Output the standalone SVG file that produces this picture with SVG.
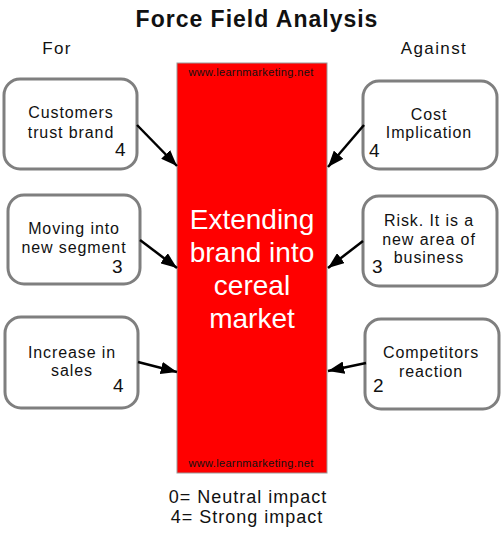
<svg xmlns="http://www.w3.org/2000/svg" width="502" height="535" viewBox="0 0 502 535">
<defs>
<marker id="ah" viewBox="0 0 13 10" refX="13" refY="5" markerWidth="6.5" markerHeight="5" orient="auto" markerUnits="strokeWidth">
<path d="M0,0 L13,5 L0,10 z" fill="#000"/>
</marker>
<style>
text{font-family:"Liberation Sans",Arial,sans-serif;fill:#111}
.box{fill:#fff;stroke:#7f7f7f;stroke-width:3}
.lbl{font-size:16px;letter-spacing:0.9px;text-anchor:middle}
.num{font-size:19px}
.arr{stroke:#000;stroke-width:2.5;fill:none;marker-end:url(#ah)}
.wm{font-size:11px;letter-spacing:0.35px;text-anchor:middle}
.ctr{font-size:28px;fill:#fff;text-anchor:middle}
.hd{font-size:17px;letter-spacing:1.4px;text-anchor:middle}
.leg{font-size:18px;letter-spacing:1px;text-anchor:middle}
</style>
</defs>
<rect width="502" height="535" fill="#fff"/>
<text x="257" y="27" font-size="23" font-weight="bold" letter-spacing="1" text-anchor="middle">Force Field Analysis</text>
<text class="hd" x="57" y="54">For</text>
<text class="hd" x="434" y="54">Against</text>

<g id="center">
<rect x="177" y="63" width="150" height="410" fill="#ff0000" stroke="#999" stroke-width="1"/>
<text class="wm" x="251" y="76">www.learnmarketing.net</text>
<text class="wm" x="251" y="467">www.learnmarketing.net</text>
<text class="ctr" x="252" y="229">Extending</text>
<text class="ctr" x="252" y="262">brand into</text>
<text class="ctr" x="252" y="295">cereal</text>
<text class="ctr" x="252" y="328">market</text>
</g>

<g id="customers">
<rect class="box" x="4" y="79" width="133" height="90" rx="16"/>
<text class="lbl" x="71" y="118">Customers</text>
<text class="lbl" x="71" y="138">trust brand</text>
<text class="num" x="115" y="156">4</text>
</g>
<g id="moving">
<rect class="box" x="8" y="195" width="132" height="89" rx="16"/>
<text class="lbl" x="74" y="234">Moving into</text>
<text class="lbl" x="74" y="253">new segment</text>
<text class="num" x="112" y="273">3</text>
</g>
<g id="increase">
<rect class="box" x="5" y="317" width="133" height="91" rx="16"/>
<text class="lbl" x="72" y="358">Increase in</text>
<text class="lbl" x="72" y="376">sales</text>
<text class="num" x="113" y="392">4</text>
</g>
<g id="cost">
<rect class="box" x="363" y="81" width="134" height="88" rx="16"/>
<text class="lbl" x="429" y="120">Cost</text>
<text class="lbl" x="429" y="138">Implication</text>
<text class="num" x="369" y="157">4</text>
</g>
<g id="risk">
<rect class="box" x="363" y="196" width="134" height="90" rx="16"/>
<text class="lbl" x="429" y="226">Risk. It is a</text>
<text class="lbl" x="429" y="245">new area of</text>
<text class="lbl" x="429" y="263">business</text>
<text class="num" x="372" y="273">3</text>
</g>
<g id="competitors">
<rect class="box" x="365" y="319" width="134" height="90" rx="16"/>
<text class="lbl" x="431" y="358">Competitors</text>
<text class="lbl" x="431" y="377">reaction</text>
<text class="num" x="373" y="392">2</text>
</g>

<g id="connectors">
<line class="arr" x1="137" y1="125" x2="177" y2="166"/>
<line class="arr" x1="140" y1="240" x2="177" y2="268"/>
<line class="arr" x1="138" y1="362" x2="177" y2="372"/>
<line class="arr" x1="364" y1="125" x2="328" y2="167"/>
<line class="arr" x1="363" y1="241" x2="328" y2="268"/>
<line class="arr" x1="366" y1="363" x2="328" y2="371"/>
</g>

<text class="leg" x="248" y="503">0= Neutral impact</text>
<text class="leg" x="247" y="523">4= Strong impact</text>
</svg>
